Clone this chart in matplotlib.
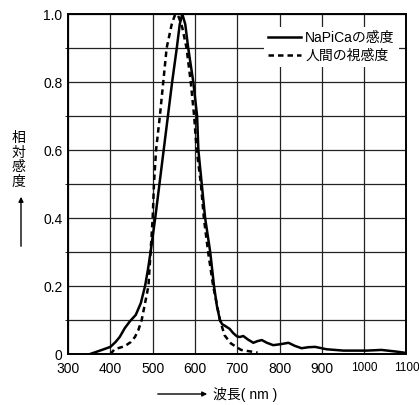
import matplotlib
matplotlib.use("Agg")
import matplotlib.pyplot as plt

plt.rcParams['font.family'] = ['Liberation Sans', 'Noto Sans CJK JP', 'DejaVu Sans']

# NaPiCa sensitivity (solid)
napica_wl = [352, 380, 400, 412, 422, 434, 446, 460, 472, 482, 489, 495, 506,
             516, 526, 536, 546, 557, 564, 570, 577, 584, 596, 605, 608, 616,
             624, 636, 645, 652, 659, 664, 672, 682, 690, 699, 706, 714, 726,
             738, 748, 758, 770, 785, 803, 821, 836, 852, 868, 884, 911, 951,
             1006, 1041, 1077, 1100]
napica_val = [0.0, 0.012, 0.021, 0.035, 0.05, 0.076, 0.096, 0.115, 0.15, 0.2,
              0.25, 0.3, 0.4, 0.5, 0.6, 0.7, 0.8, 0.9, 0.97, 1.0, 0.97, 0.9,
              0.8, 0.7, 0.6, 0.5, 0.4, 0.3, 0.2, 0.14, 0.1, 0.088, 0.082,
              0.074, 0.062, 0.052, 0.05, 0.053, 0.042, 0.033, 0.038, 0.041,
              0.033, 0.026, 0.029, 0.033, 0.024, 0.017, 0.02, 0.021, 0.014,
              0.01, 0.01, 0.012, 0.007, 0.003]

# human eye sensitivity (dashed)
human_wl = [400, 410, 434, 448, 458, 466, 474, 482, 490, 495, 500, 503, 508,
            517, 525, 533, 545, 552, 557, 562, 570, 580, 590, 598, 604, 614,
            621, 631, 643, 659, 670, 685, 709, 748]
human_val = [0.0, 0.014, 0.023, 0.035, 0.05, 0.07, 0.1, 0.15, 0.2, 0.3, 0.4,
             0.5, 0.6, 0.7, 0.8, 0.9, 0.97, 0.995, 1.0, 0.99, 0.96, 0.9, 0.8,
             0.7, 0.6, 0.5, 0.4, 0.3, 0.2, 0.1, 0.055, 0.031, 0.012, 0.004]

x_ticks = [300, 400, 500, 600, 700, 800, 900, 1000, 1100]
y_ticks = [0, 0.2, 0.4, 0.6, 0.8, 1.0]
y_labels = ['0', '0.2', '0.4', '0.6', '0.8', '1.0']

fig = plt.figure(figsize=(4.19, 4.05), dpi=100)
ax = fig.add_axes([0.1625, 0.1259, 0.8076, 0.8395])

ax.plot(napica_wl, napica_val, color='black', lw=1.8, label='NaPiCaの感度', zorder=3)
ax.plot(human_wl, human_val, color='black', lw=1.8, ls=(0, (2.2, 1.6)),
        label='人間の視感度', zorder=3)

ax.set_xlim(300, 1100)
ax.set_ylim(0, 1.0)
ax.set_xticks(x_ticks)
ax.set_yticks(y_ticks)
ax.set_yticklabels(y_labels)
ax.set_yticks([i / 10 for i in range(11)], minor=True)
ax.grid(True, which='both', color='#222222', lw=0.9)
ax.tick_params(length=0, labelsize=10)
ax.tick_params(axis='x', pad=6)
ax.tick_params(axis='y', pad=4)
for lab in ax.get_xticklabels():
    if lab.get_text() in ('1000', '1100'):
        lab.set_fontsize(8.5)
for sp in ax.spines.values():
    sp.set_linewidth(1.4)

leg = ax.legend(loc='upper right', bbox_to_anchor=(0.978, 0.962), frameon=True,
                fancybox=False, edgecolor='none', facecolor='white', framealpha=1,
                fontsize=10, handlelength=2.4, handletextpad=0.3, labelspacing=0.25,
                borderpad=0.3, borderaxespad=0)

# y axis label: stacked characters with arrow
fig.text(18 / 419, 1 - 160 / 405, '相\n対\n感\n度', ha='center', va='center',
         fontsize=10, linespacing=1.05)
fig.add_artist(matplotlib.patches.FancyArrowPatch(
    (21 / 419, 1 - 249 / 405), (21 / 419, 1 - 194 / 405),
    transform=fig.transFigure, arrowstyle='-|>', mutation_scale=7, lw=1, color='black'))

# x axis label with arrow
fig.add_artist(matplotlib.patches.FancyArrowPatch(
    (155 / 419, 1 - 394 / 405), (210 / 419, 1 - 394 / 405),
    transform=fig.transFigure, arrowstyle='-|>', mutation_scale=7, lw=1, color='black'))
fig.text(213 / 419, 1 - 394 / 405, '波長( nm )', ha='left', va='center', fontsize=10)

fig.savefig('out.png', dpi=100)
